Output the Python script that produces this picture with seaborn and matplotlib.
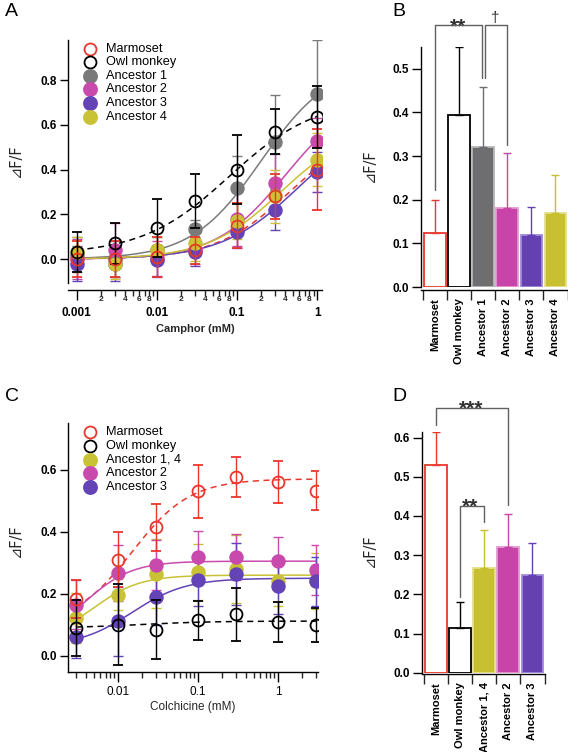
import numpy as np
import pandas as pd
import matplotlib
matplotlib.use("Agg")
import matplotlib.pyplot as plt
import seaborn as sns
from matplotlib.lines import Line2D

# ---------------- data ----------------
series_names = ["Marmoset", "Owl monkey", "Ancestor 1", "Ancestor 2", "Ancestor 3", "Ancestor 4"]

# Panel A: camphor dose response
camphor_conc = [0.001, 0.003, 0.01, 0.03, 0.1, 0.3, 1]
a_marmoset = [0.00, 0.00, 0.01, 0.04, 0.15, 0.28, 0.40]
a_marmoset_err = [0.08, 0.08, 0.09, 0.06, 0.10, 0.10, 0.18]
a_owl = [0.03, 0.07, 0.14, 0.26, 0.40, 0.57, 0.635]
a_owl_err = [0.09, 0.09, 0.13, 0.12, 0.155, 0.10, 0.14]
a_anc1 = [0.02, 0.00, 0.04, 0.135, 0.32, 0.525, 0.74]
a_anc1_err = [0.08, 0.08, 0.06, 0.04, 0.14, 0.21, 0.24]
a_anc2 = [0.00, 0.04, 0.00, 0.04, 0.18, 0.34, 0.53]
a_anc2_err = [0.09, 0.12, 0.08, 0.06, 0.12, 0.13, 0.10]
a_anc3 = [-0.02, -0.02, -0.005, 0.03, 0.12, 0.22, 0.39]
a_anc3_err = [0.08, 0.08, 0.07, 0.06, 0.07, 0.09, 0.09]
a_anc4 = [0.03, -0.02, 0.04, 0.07, 0.17, 0.28, 0.445]
a_anc4_err = [0.07, 0.07, 0.06, 0.08, 0.08, 0.12, 0.12]
# Hill fit parameters (base, top, EC50, n) for panel A curves
a_fit_base = [0.0, 0.02, 0.0, 0.0, 0.0, 0.0]
a_fit_top = [0.60, 0.72, 0.88, 0.75, 0.65, 0.60]
a_fit_ec50 = [0.45, 0.08, 0.20, 0.40, 0.60, 0.35]
a_fit_n = [0.95, 0.80, 1.0, 1.0, 0.9, 0.95]

# Panel B: camphor 1 mM bars
b_labels = ["Marmoset", "Owl monkey", "Ancestor 1", "Ancestor 2", "Ancestor 3", "Ancestor 4"]
b_values = [0.123, 0.395, 0.320, 0.180, 0.120, 0.170]
b_err = [0.077, 0.155, 0.138, 0.127, 0.063, 0.087]

# Panel C: colchicine dose response
c_names = ["Marmoset", "Owl monkey", "Ancestor 1, 4", "Ancestor 2", "Ancestor 3"]
colch_conc = [0.003, 0.01, 0.03, 0.1, 0.3, 1, 3]
c_marmoset = [0.183, 0.31, 0.414, 0.53, 0.576, 0.559, 0.532]
c_marmoset_err = [0.06, 0.088, 0.075, 0.085, 0.064, 0.067, 0.063]
c_owl = [0.091, 0.10, 0.084, 0.114, 0.134, 0.108, 0.10]
c_owl_err = [0.09, 0.13, 0.095, 0.063, 0.085, 0.064, 0.055]
c_anc14 = [0.122, 0.197, 0.265, 0.269, 0.28, 0.24, 0.24]
c_anc14_err = [0.08, 0.05, 0.11, 0.09, 0.11, 0.08, 0.09]
c_anc2 = [0.165, 0.267, 0.292, 0.318, 0.318, 0.304, 0.277]
c_anc2_err = [0.08, 0.09, 0.08, 0.085, 0.075, 0.08, 0.08]
c_anc3 = [0.062, 0.111, 0.189, 0.245, 0.265, 0.226, 0.24]
c_anc3_err = [0.07, 0.11, 0.09, 0.085, 0.10, 0.09, 0.08]
c_fit_base = [0.10, 0.09, 0.05, 0.05, 0.03]
c_fit_top = [0.57, 0.112, 0.26, 0.305, 0.25]
c_fit_ec50 = [0.015, 0.02, 0.005, 0.004, 0.015]
c_fit_n = [1.2, 1.0, 1.5, 1.5, 1.3]

# Panel D: colchicine bars
d_labels = ["Marmoset", "Owl monkey", "Ancestor 1, 4", "Ancestor 2", "Ancestor 3"]
d_values = [0.531, 0.113, 0.266, 0.321, 0.249]
d_err = [0.083, 0.068, 0.098, 0.084, 0.081]

# ---------------- style ----------------
RED = "#e8372c"
BLACK = "#000000"
GRAY = "#7a7a7a"
MAG = "#c94aad"
PUR = "#6343b5"
YEL = "#c8c234"

sns.set_theme(style="ticks")
plt.rcParams["font.family"] = ["Liberation Sans", "DejaVu Sans"]
plt.rcParams["axes.linewidth"] = 1.0

W, H = 568, 752
fig = plt.figure(figsize=(W / 100, H / 100), dpi=100)


def px_axes(l, t, r, b):
    return fig.add_axes([l / W, 1 - b / H, (r - l) / W, (b - t) / H])


def hill(x, base, top, k, n):
    x = np.asarray(x, dtype=float)
    return base + (top - base) * x ** n / (x ** n + k ** n)


def style_common(ax):
    sns.despine(ax=ax)
    for s in ["left", "bottom"]:
        ax.spines[s].set_color("black")
        ax.spines[s].set_linewidth(1.0)
    ax.tick_params(colors="black", direction="out", width=1.0)


def draw_points(ax, x, y, err, color, filled, z):
    if filled:
        ax.errorbar(x, y, yerr=err, fmt="o", color=color, ms=9.4, mfc=color, mec=color,
                    elinewidth=1.0, capsize=3.5, capthick=1.0, zorder=z)
    else:
        ax.errorbar(x, y, yerr=err, fmt="o", color=color, ms=8.6, mfc="none", mec=color,
                    mew=1.3, elinewidth=1.0, capsize=3.5, capthick=1.0, zorder=z)


def draw_curve(ax, xmin, xmax, params, color, dashed, z):
    xs = np.logspace(np.log10(xmin), np.log10(xmax), 200)
    ys = hill(xs, *params)
    sns.lineplot(x=xs, y=ys, ax=ax, color=color, lw=1.1,
                 linestyle=(0, (4, 3)) if dashed else "-", zorder=z)


def legend_px(entries, x_marker, x_text, y0, dy):
    for i, (name, color, filled) in enumerate(entries):
        y = y0 + i * dy
        fig.add_artist(Line2D([x_marker / W], [1 - y / H], marker="o", ls="none",
                              ms=9.4 if filled else 8.6,
                              mfc=color if filled else "none", mec=color,
                              mew=1.3, transform=fig.transFigure))
        fig.text(x_text / W, 1 - y / H, name, fontsize=9.2, va="center", ha="left", color="black")


def log_ticks(ax, majors, major_labels, minor, minor_labels, bold):
    ax.set_xticks(majors)
    ax.set_xticklabels(major_labels)
    ax.set_xticks(minor, minor=True)
    ax.set_xticklabels(minor_labels, minor=True)
    ax.tick_params(axis="x", which="major", length=7, width=1.0, pad=5,
                   labelsize=8.5)
    ax.tick_params(axis="x", which="minor", length=4, width=1.0, pad=0.5,
                   labelsize=6)
    for lab in ax.get_xticklabels():
        lab.set_fontweight("bold" if bold else "normal")
    for lab in ax.get_xticklabels(minor=True):
        lab.set_fontweight("bold")


def bars(ax, labels, values, errs, faces, edges, sig, outward, ylim, yticks):
    df = pd.DataFrame({"label": labels, "value": values})
    sns.barplot(data=df, x="label", y="value", hue="label", palette=dict(zip(labels, faces)),
                width=0.9, ax=ax, legend=False, saturation=1)
    for p, fc, ec in zip(ax.patches, faces, edges):
        p.set_facecolor(fc)
        p.set_edgecolor(ec)
        p.set_linewidth(1.3)
    for i, (v, e, ec, fc) in enumerate(zip(values, errs, edges, faces)):
        c = ec if fc == "white" else fc
        ax.errorbar([i], [v], yerr=[[0], [e]], fmt="none", ecolor=c, elinewidth=1.0,
                    capsize=3.2, capthick=1.0, zorder=3)
    for (x0, x1, ytop, yl, yr, txt, tx, ty, fs, fw) in sig:
        ax.plot([x0, x0, x1, x1], [yl, ytop, ytop, yr], color="#606060", lw=1.0,
                clip_on=False, zorder=4)
        ax.text(tx, ty, txt, ha="center", va="baseline", fontsize=fs, fontweight=fw,
                color="#303030", clip_on=False)
    style_common(ax)
    ax.spines["bottom"].set_position(("outward", outward))
    ax.set_xlabel("")
    ax.set_ylabel("")
    ax.set_ylim(*ylim)
    ax.set_yticks(yticks)
    ax.set_yticklabels([f"{t:.1f}" for t in yticks], fontweight="bold", fontsize=8.5)
    ax.set_xticks(np.arange(len(labels)))
    ax.set_xticklabels(labels, rotation=90, fontsize=8, fontweight="bold", va="top", ha="center")
    ax.tick_params(axis="x", which="major", length=0, pad=6)
    ax.set_xticks(np.arange(len(labels) + 1) - 0.5, minor=True)
    ax.tick_params(axis="x", which="minor", length=7.5, width=1.0, direction="out")
    ax.tick_params(axis="y", length=6.5, width=1.0, labelsize=8.5, pad=2)
    ax.set_xlim(-0.58, len(labels) - 0.5)


# ---------------- Panel A ----------------
axA = px_axes(68, 40, 322, 283)
a_sets = [
    (a_anc1, a_anc1_err, GRAY, True, 2),
    (a_anc2, a_anc2_err, MAG, True, 2),
    (a_anc3, a_anc3_err, PUR, True, 2),
    (a_anc4, a_anc4_err, YEL, True, 2),
    (a_marmoset, a_marmoset_err, RED, False, 3),
    (a_owl, a_owl_err, BLACK, False, 3),
]
a_curve_cols = [RED, BLACK, GRAY, MAG, PUR, YEL]
for i, col in enumerate(a_curve_cols):
    draw_curve(axA, camphor_conc[0], camphor_conc[-1],
               (a_fit_base[i], a_fit_top[i], a_fit_ec50[i], a_fit_n[i]), col, i < 2, 1.5)
for y, e, c, f, z in a_sets:
    draw_points(axA, camphor_conc, y, e, c, f, z)
axA.set_xscale("log")
axA.set_xlim(10 ** -3.11, 10 ** 0.06)
axA.set_ylim(-0.107, 0.98)
style_common(axA)
axA.spines["bottom"].set_position(("outward", 5))
axA.set_yticks([0.0, 0.2, 0.4, 0.6, 0.8])
axA.set_yticklabels(["0.0", "0.2", "0.4", "0.6", "0.8"], fontsize=8.5, fontweight="bold")
axA.tick_params(axis="y", length=6, width=1.0, pad=2)
minorA = [k * 10.0 ** d for d in (-3, -2, -1) for k in range(2, 10)]
minorA_lab = [str(k) if k in (2, 4, 6, 8) else "" for d in (-3, -2, -1) for k in range(2, 10)]
log_ticks(axA, [0.001, 0.01, 0.1, 1], ["0.001", "0.01", "0.1", "1"], minorA, minorA_lab, True)
axA.set_xlabel("Camphor (mM)", fontsize=8, fontweight="bold", labelpad=4)
axA.set_ylabel("")
legend_px([("Marmoset", RED, False), ("Owl monkey", BLACK, False), ("Ancestor 1", GRAY, True),
           ("Ancestor 2", MAG, True), ("Ancestor 3", PUR, True), ("Ancestor 4", YEL, True)],
          90, 106, 48.5, 13.6)

# ---------------- Panel B ----------------
axB = px_axes(421, 47, 567.5, 287)
b_faces = ["white", "white", "#6e6e70", "#c844a8", "#6440b0", "#c8c030"]
b_edges = [RED, BLACK, "#b8b8b8", "#e39bd2", "#a08ad8", "#e4de8a"]
b_sig = [
    (0, 1.95, 0.60, 0.222, 0.48, "**", 0.97, 0.583, 15, "bold"),
    (2.07, 2.99, 0.60, 0.48, 0.326, "\u2020", 2.5, 0.607, 11, "normal"),
]
bars(axB, b_labels, b_values, b_err, b_faces, b_edges, b_sig, 2.2, (0, 0.55),
     [0.0, 0.1, 0.2, 0.3, 0.4, 0.5])

# ---------------- Panel C ----------------
axC = px_axes(68, 423, 318, 672)
c_curve_cols = [RED, BLACK, YEL, MAG, PUR]
for i, col in enumerate(c_curve_cols):
    draw_curve(axC, colch_conc[0], colch_conc[-1],
               (c_fit_base[i], c_fit_top[i], c_fit_ec50[i], c_fit_n[i]), col, i < 2, 1.5)
c_sets = [
    (c_anc14, c_anc14_err, YEL, True, 2),
    (c_anc2, c_anc2_err, MAG, True, 2),
    (c_anc3, c_anc3_err, PUR, True, 2),
    (c_marmoset, c_marmoset_err, RED, False, 3),
    (c_owl, c_owl_err, BLACK, False, 3),
]
for y, e, c, f, z in c_sets:
    draw_points(axC, colch_conc, y, e, c, f, z)
axC.set_xscale("log")
axC.set_xlim(10 ** -2.625, 10 ** 0.5)
axC.set_ylim(-0.052, 0.75)
style_common(axC)
axC.set_yticks([0.0, 0.2, 0.4, 0.6])
axC.set_yticklabels(["0.0", "0.2", "0.4", "0.6"], fontsize=8.5, fontweight="bold")
axC.tick_params(axis="y", length=6, width=1.0, pad=2)
minorC = [k * 10.0 ** d for d in (-3, -2, -1, 0) for k in range(2, 10) if 0.003 <= k * 10.0 ** d <= 3.01]
log_ticks(axC, [0.01, 0.1, 1], ["0.01", "0.1", "1"], minorC, [""] * len(minorC), False)
axC.tick_params(axis="x", which="major", pad=3)
axC.set_xlabel("Colchicine (mM)", fontsize=8.5, labelpad=2)
axC.set_ylabel("")
legend_px([("Marmoset", RED, False), ("Owl monkey", BLACK, False), ("Ancestor 1, 4", YEL, True),
           ("Ancestor 2", MAG, True), ("Ancestor 3", PUR, True)],
          90, 106, 432, 13.8)

# ---------------- Panel D ----------------
axD = px_axes(422, 431.7, 544.5, 672.7)
d_faces = ["white", "white", "#c8c030", "#c844a8", "#6440b0"]
d_edges = [RED, BLACK, "#e4de8a", "#e39bd2", "#a08ad8"]
d_sig = [
    (0, 3.0, 0.676, 0.632, 0.428, "***", 1.45, 0.658, 15, "bold"),
    (1.0, 1.98, 0.425, 0.194, 0.385, "**", 1.42, 0.408, 15, "bold"),
]
bars(axD, d_labels, d_values, d_err, d_faces, d_edges, d_sig, 1, (0, 0.615),
     [0.0, 0.1, 0.2, 0.3, 0.4, 0.5, 0.6])

# ---------------- labels ----------------
for (x, y, t) in [(5, 3, "A"), (392, 3, "B"), (5, 388, "C"), (392, 388, "D")]:
    fig.text(x / W, 1 - y / H, t, fontsize=14, va="top", ha="left", color="black")
for (x, y) in [(15, 160), (369, 165), (15, 540), (369, 550)]:
    fig.text(x / W, 1 - y / H, "\u22bfF/F", fontsize=10.5, rotation=90, va="center", ha="center",
             family=["DejaVu Sans", "Liberation Sans"])

fig.savefig("out.png", dpi=100)
